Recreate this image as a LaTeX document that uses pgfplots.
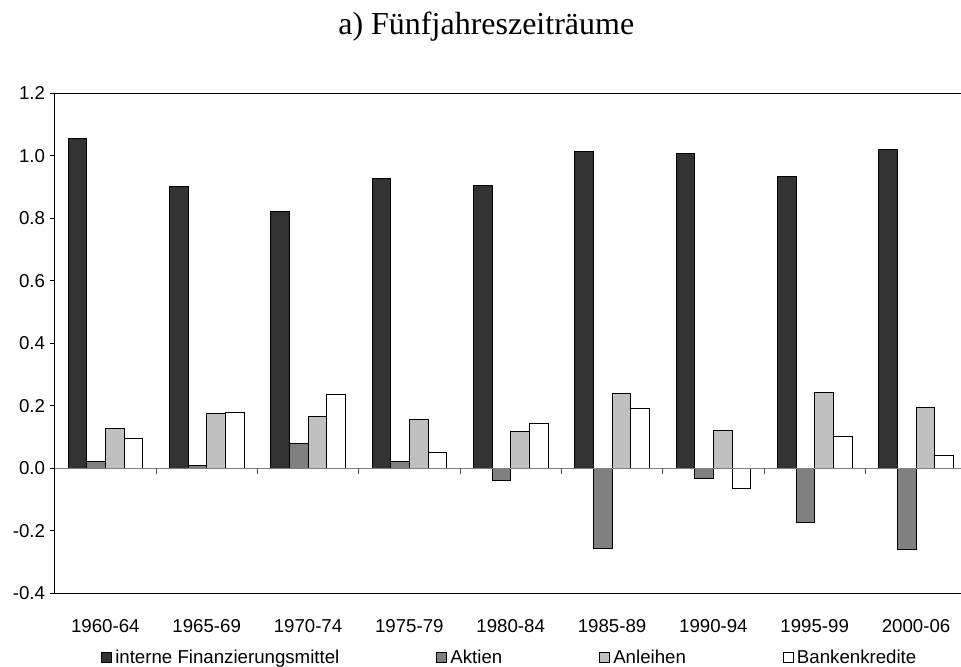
\documentclass[border=0pt]{standalone}
\usepackage{fontspec}
\setmainfont{Liberation Sans}
\newfontfamily\titlefont{Liberation Serif}
\usepackage{pgfplots}
\pgfplotsset{compat=1.18}
\definecolor{cInt}{HTML}{333333}
\definecolor{cAkt}{HTML}{808080}
\definecolor{cAnl}{HTML}{C0C0C0}
\definecolor{cBank}{HTML}{FFFFFF}
\definecolor{cZero}{HTML}{808080}
\begin{document}
\begin{tikzpicture}
\begin{axis}[
  name=ax, at={(0,0)}, anchor=south west,
  scale only axis, width=684pt, height=375pt,
  xmin=-0.5, xmax=8.5, ymin=-0.4, ymax=1.2,
  ybar, bar width=14pt,
  xtick={0,1,2,3,4,5,6,7,8},
  xticklabels={1960-64,1965-69,1970-74,1975-79,1980-84,1985-89,1990-94,1995-99,2000-06},
  x tick style={draw=none},
  ytick={-0.4,-0.2,0,0.2,0.4,0.6,0.8,1.0,1.2},
  yticklabels={-0.4,-0.2,0.0,0.2,0.4,0.6,0.8,1.0,1.2},
  ytick pos=left,
  tick align=outside, major tick length=3.75pt,
  y tick style={black, line width=0.75pt},
  tick label style={font=\fontsize{14}{16}\selectfont},
  xticklabel style={anchor=base, yshift=-25.5pt},
  axis line style={line width=1pt, black},
  legend columns=4,
  legend cell align=left,
  legend image code/.code={\draw[#1, line width=0.75pt] (0pt,-3.6pt) rectangle (7.5pt,3.9pt);},
  legend style={draw=none, fill=none, font=\fontsize{14}{16}\selectfont,
    at={(axis description cs:0,0)}, anchor=west, xshift=34.5pt, yshift=-48pt,
    inner sep=0pt, nodes={inner sep=0pt},
    /tikz/every odd column/.style={column sep=2.5pt},
    /tikz/every even column/.style={column sep=72.5pt}},
  every axis plot/.append style={draw=black, line width=0.75pt},
]
\addplot[fill=cInt, bar shift=-21pt] coordinates {(0,1.056) (1,0.903) (2,0.821) (3,0.928) (4,0.906) (5,1.013) (6,1.009) (7,0.934) (8,1.019)};
\addplot[fill=cAkt, bar shift=-7pt] coordinates {(0,0.023) (1,0.009) (2,0.079) (3,0.023) (4,-0.039) (5,-0.257) (6,-0.034) (7,-0.173) (8,-0.261)};
\addplot[fill=cAnl, bar shift=7pt] coordinates {(0,0.128) (1,0.175) (2,0.166) (3,0.156) (4,0.117) (5,0.240) (6,0.121) (7,0.243) (8,0.195)};
\addplot[fill=cBank, bar shift=21pt] coordinates {(0,0.096) (1,0.179) (2,0.235) (3,0.051) (4,0.143) (5,0.191) (6,-0.065) (7,0.102) (8,0.041)};
\legend{interne Finanzierungsmittel, Aktien, Anleihen, Bankenkredite}
\draw[cZero, line width=0.75pt] (axis cs:-0.5,0) -- (axis cs:8.5,0);
\pgfplotsinvokeforeach{0.5,1.5,2.5,3.5,4.5,5.5,6.5,7.5}{
  \draw[cZero!60!black, line width=0.75pt] (axis cs:#1,0) -- ++(0pt,-4.5pt);
}
\end{axis}
\node[anchor=base, font=\titlefont\fontsize{24}{28}\selectfont] at (323.7pt,419.25pt) {a) Fünfjahreszeiträume};
\pgfresetboundingbox
\path[use as bounding box] (-41pt,-54.5pt) rectangle (679.7pt,445pt);
\end{tikzpicture}
\end{document}
